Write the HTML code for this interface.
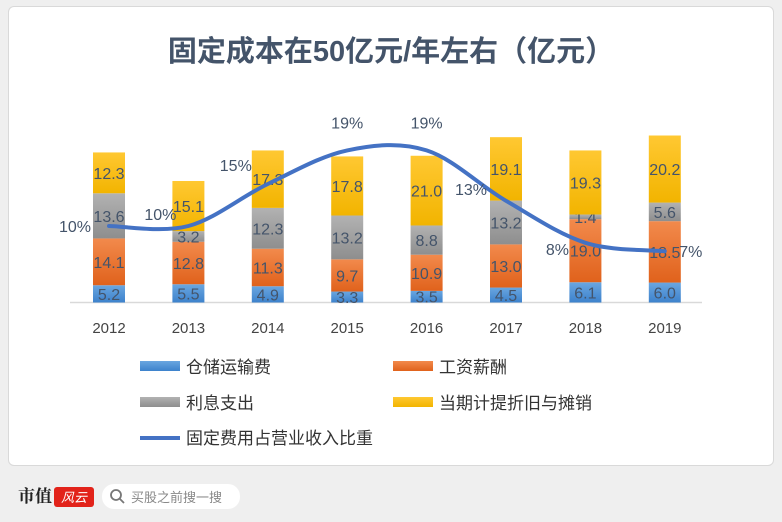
<!DOCTYPE html>
<html><head><meta charset="utf-8"><style>
body{margin:0;width:782px;height:522px;background:#efefef;font-family:"Liberation Sans","Noto Sans CJK SC",sans-serif;overflow:hidden;position:relative}
.card{position:absolute;left:8px;top:6px;width:764px;height:458px;background:#fff;border:1px solid #d9d9d9;border-radius:6px}
</style></head><body>
<div class="card"></div>
<svg width="782" height="522" style="position:absolute;left:0;top:0">
<defs>
<linearGradient id="gB" x1="0" y1="0" x2="0" y2="1"><stop offset="0" stop-color="#6aa6e0"/><stop offset="1" stop-color="#3d82cc"/></linearGradient>
<linearGradient id="gO" x1="0" y1="0" x2="0" y2="1"><stop offset="0" stop-color="#f28a4c"/><stop offset="1" stop-color="#e0621c"/></linearGradient>
<linearGradient id="gG" x1="0" y1="0" x2="0" y2="1"><stop offset="0" stop-color="#b2b2b2"/><stop offset="1" stop-color="#8e8e8e"/></linearGradient>
<linearGradient id="gY" x1="0" y1="0" x2="0" y2="1"><stop offset="0" stop-color="#ffc832"/><stop offset="1" stop-color="#f2b400"/></linearGradient>
</defs>
<text x="391" y="61" text-anchor="middle" font-size="29" font-weight="bold" fill="#44546a">固定成本在50亿元/年左右（亿元）</text>
<line x1="70" y1="302.5" x2="702" y2="302.5" stroke="#d9d9d9" stroke-width="1.5"/>
<g id="bars"></g>
<g id="xlabels"></g>
<path id="line" fill="none" stroke="#4472c4" stroke-width="4" stroke-linecap="round"/>
<g id="pct"></g>
<g font-size="17" fill="#333">
<g><rect x="140" y="361" width="40" height="10" fill="url(#gB)"/><text x="186" y="373">仓储运输费</text></g>
<g><rect x="393" y="361" width="40" height="10" fill="url(#gO)"/><text x="439" y="373">工资薪酬</text></g>
<g><rect x="140" y="397" width="40" height="10" fill="url(#gG)"/><text x="186" y="409">利息支出</text></g>
<g><rect x="393" y="397" width="40" height="10" fill="url(#gY)"/><text x="439" y="409">当期计提折旧与摊销</text></g>
<g><line x1="140" y1="438" x2="180" y2="438" stroke="#4472c4" stroke-width="4"/><text x="186" y="444">固定费用占营业收入比重</text></g>
</g>
<text x="18" y="502" font-size="17" font-weight="bold" fill="#222" font-family="'Noto Serif CJK SC',serif">市值</text>
<rect x="54" y="487" width="40" height="20" rx="3" fill="#e2231a"/>
<text x="74" y="502" font-size="13" fill="#fff" text-anchor="middle" font-style="italic">风云</text>
<rect x="102" y="484" width="138" height="25" rx="12" fill="#fff"/>
<circle cx="116" cy="495" r="5" fill="none" stroke="#777" stroke-width="1.8"/>
<line x1="120" y1="499" x2="124" y2="503" stroke="#777" stroke-width="1.8"/>
<text x="131" y="502" font-size="13" fill="#888">买股之前搜一搜</text>
</svg>
<script>
const years=['2012','2013','2014','2015','2016','2017','2018','2019'];
const storage=[5.2,5.5,4.9,3.3,3.5,4.5,6.1,6.0];
const wages=[14.1,12.8,11.3,9.7,10.9,13.0,19.0,18.5];
const interest=[13.6,3.2,12.3,13.2,8.8,13.2,1.4,5.6];
const deprec=[12.3,15.1,17.3,17.8,21.0,19.1,19.3,20.2];
const ratio=[10,10,15,19,19,13,8,7];
const NS='http://www.w3.org/2000/svg';
const x=i=>109+i*79.4;
const y=v=>302.5-v*3.32;
const yp=p=>226-(p-10)*8.4;
const bars=document.getElementById('bars');
const series=[[storage,'url(#gB)','storage'],[wages,'url(#gO)','wages'],[interest,'url(#gG)','interest'],[deprec,'url(#gY)','depreciation']];
function mk(tag,attrs,parent){const e=document.createElementNS(NS,tag);for(const k in attrs)e.setAttribute(k,attrs[k]);parent.appendChild(e);return e;}
years.forEach((yr,i)=>{
 let cum=0;
 series.forEach(([arr,fill,nm])=>{
  const v=arr[i];
  const r=mk('rect',{x:x(i)-16,y:y(cum+v),width:32,height:y(cum)-y(cum+v),fill:fill},bars);
  
  
  const t=mk('text',{x:x(i),y:(y(cum)+y(cum+v))/2+6,'text-anchor':'middle','font-size':16,fill:'#44546a'},bars);
  t.textContent=v.toFixed(1);
  
  
  cum+=v;
 });
 const xl=mk('text',{x:x(i),y:333,'text-anchor':'middle','font-size':15,fill:'#444'},document.getElementById('xlabels'));
 xl.textContent=yr;
 
 
});
const pts=ratio.map((p,i)=>[x(i),yp(p)]);
let d='M'+pts[0][0]+','+pts[0][1];
for(let i=0;i<pts.length-1;i++){
 const p0=pts[Math.max(0,i-1)],p1=pts[i],p2=pts[i+1],p3=pts[Math.min(pts.length-1,i+2)];
 d+=' C'+(p1[0]+(p2[0]-p0[0])/6)+','+(p1[1]+(p2[1]-p0[1])/6)+' '+(p2[0]-(p3[0]-p1[0])/6)+','+(p2[1]-(p3[1]-p1[1])/6)+' '+p2[0]+','+p2[1];
}
document.getElementById('line').setAttribute('d',d);
const offs=[[-34,6],[-28,-6],[-32,-13],[0,-22],[0,-22],[-35,-6],[-28,12],[26,6]];
ratio.forEach((p,i)=>{
 const t=mk('text',{x:x(i)+offs[i][0],y:yp(p)+offs[i][1],'text-anchor':'middle','font-size':16,fill:'#44546a'},document.getElementById('pct'));
 t.textContent=p+'%';
 
 
});
</script>
</body></html>
